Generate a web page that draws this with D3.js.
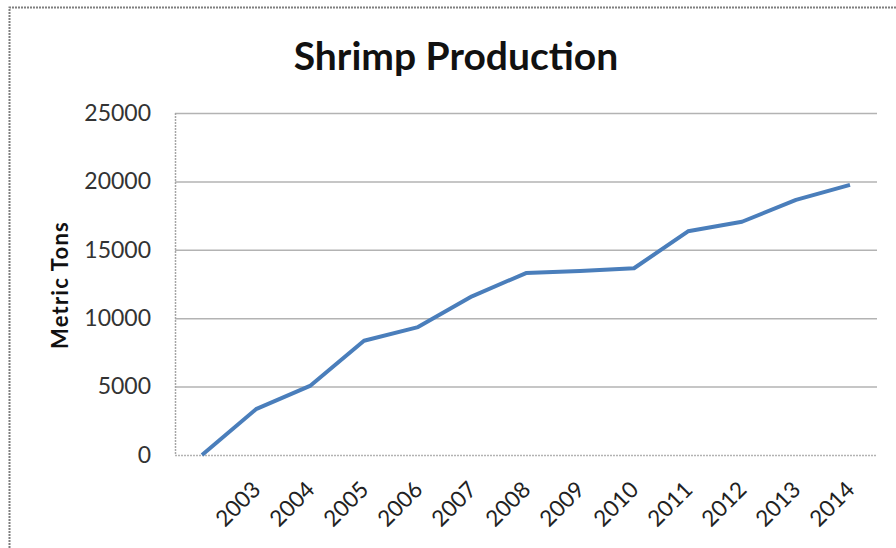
<!DOCTYPE html>
<html>
<head>
<meta charset="utf-8">
<script src="https://cdn.jsdelivr.net/npm/d3@7"></script>
<style>
  body { margin: 0; background: #fff; }
  svg { display: block; }
  text { font-family: Lato, "Open Sans", sans-serif; }
</style>
</head>
<body>
<div id="chart"></div>
<script>
// données
const years = ['', '2003', '2004', '2005', '2006', '2007', '2008', '2009', '2010', '2011', '2012', '2013', '2014'];
const tons = [0, 3350, 5050, 8350, 9350, 11600, 13300, 13450, 13650, 16350, 17050, 18650, 19750];
const yTicks = [0, 5000, 10000, 15000, 20000, 25000];

function drawChart() {
    const container = document.getElementById('chart');
    const width = 896, height = 548;
    const margin = { top: 113, right: 19, bottom: 93, left: 175 };
    const innerW = width - margin.left - margin.right;
    const innerH = height - margin.top - margin.bottom;

    const svg = d3.select(container).append('svg')
        .attr('width', width)
        .attr('height', height);

    // cadre
    svg.append('path')
        .attr('d', `M9.5,${height} V7.5 H${width}`)
        .attr('fill', 'none')
        .attr('stroke', '#7f7f7f')
        .attr('stroke-width', 2)
        .attr('stroke-dasharray', '2,1');

    // titre
    svg.append('text')
        .attr('x', 456)
        .attr('y', 70)
        .attr('text-anchor', 'middle')
        .attr('font-size', 39)
        .attr('font-weight', 'bold')
        .attr('fill', '#111')
        .text('Shrimp Production');

    const g = svg.append('g').attr('transform', `translate(${margin.left},${margin.top})`);

    const x = d3.scaleBand().domain(years).range([0, innerW]).padding(0);
    const y = d3.scaleLinear().domain([0, 25000]).range([innerH, 0]);

    // grille + axe Y
    const yAxis = g.append('g')
        .call(d3.axisLeft(y).tickValues(yTicks).tickSize(-innerW).tickPadding(24).tickFormat(d3.format('d')));
    yAxis.select('.domain').remove();
    yAxis.selectAll('.tick line')
        .attr('stroke', '#b3b3b3')
        .attr('stroke-width', 1.5)
        .attr('stroke-dasharray', d => d === 0 ? '2,1' : null);
    yAxis.selectAll('.tick text')
        .attr('font-size', 23)
        .attr('fill', '#333');

    // ligne verticale de l'axe
    g.append('line')
        .attr('x1', 0.5).attr('x2', 0.5)
        .attr('y1', 0).attr('y2', innerH)
        .attr('stroke', '#a6a6a6')
        .attr('stroke-width', 1.5)
        .attr('stroke-dasharray', '2,1');

    // axe X
    const xAxis = g.append('g')
        .attr('transform', `translate(0,${innerH})`)
        .call(d3.axisBottom(x).tickSize(0).tickPadding(0));
    xAxis.select('.domain').remove();
    xAxis.selectAll('.tick text')
        .attr('font-size', 22.5)
        .attr('fill', '#222')
        .attr('text-anchor', 'end')
        .attr('dy', 0)
        .attr('transform', 'translate(6,36) rotate(-45)');

    // titre de l'axe Y
    svg.append('text')
        .attr('transform', 'translate(68,285) rotate(-90)')
        .attr('text-anchor', 'middle')
        .attr('font-size', 22)
        .attr('font-weight', 'bold')
        .attr('letter-spacing', 1.2)
        .attr('fill', '#111')
        .text('Metric Tons');

    // la courbe
    const line = d3.line()
        .x((d, i) => x(years[i]) + x.bandwidth() / 2)
        .y(d => y(d));

    g.append('path')
        .datum(tons)
        .attr('d', line)
        .attr('fill', 'none')
        .attr('stroke', '#4a7ebb')
        .attr('stroke-width', 4)
        .attr('stroke-linejoin', 'round');
}

drawChart();
</script>
</body>
</html>
